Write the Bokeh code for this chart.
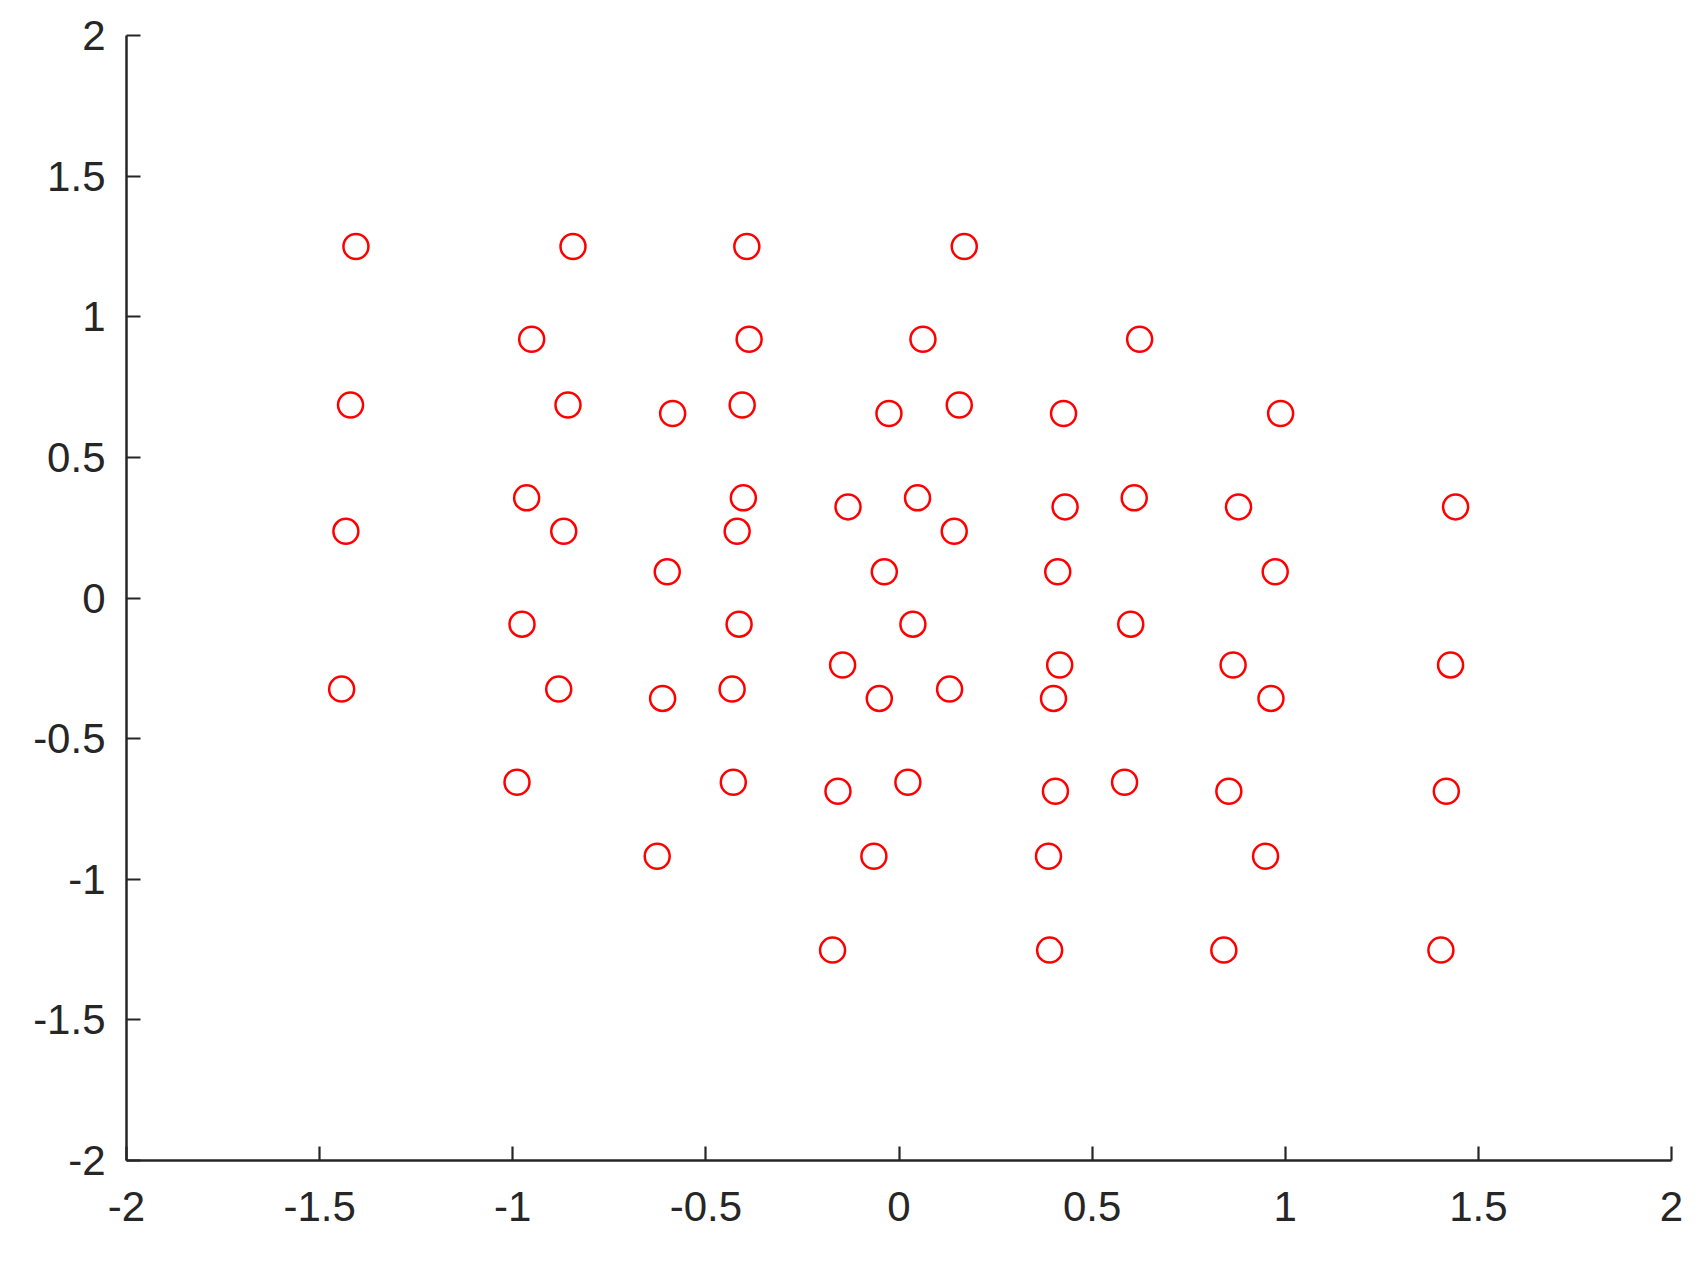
from bokeh.plotting import figure
from bokeh.models import Range1d, FixedTicker, ColumnDataSource
from bokeh.embed import file_html
from bokeh.resources import INLINE

# Data (4 x 16 points)
x_vals = [
    -1.406, -0.844, -0.394, 0.169,
    -0.951, -0.388, 0.062, 0.623,
    -1.420, -0.857, -0.406, 0.156,
    -0.586, -0.026, 0.426, 0.988,
    -0.964, -0.403, 0.048, 0.609,
    -0.132, 0.430, 0.879, 1.441,
    -1.432, -0.868, -0.419, 0.143,
    -0.600, -0.038, 0.411, 0.974,
    -0.976, -0.414, 0.036, 0.600,
    -0.146, 0.416, 0.865, 1.428,
    -1.443, -0.881, -0.432, 0.131,
    -0.612, -0.051, 0.400, 0.963,
    -0.989, -0.429, 0.023, 0.584,
    -0.158, 0.405, 0.854, 1.417,
    -0.626, -0.065, 0.387, 0.949,
    -0.172, 0.390, 0.841, 1.403,
]
y_vals = (
    [1.250] * 4 + [0.920] * 4 + [0.686] * 4 + [0.656] * 4 +
    [0.356] * 4 + [0.324] * 4 + [0.237] * 4 + [0.093] * 4 +
    [-0.093] * 4 + [-0.238] * 4 + [-0.324] * 4 + [-0.357] * 4 +
    [-0.655] * 4 + [-0.687] * 4 + [-0.918] * 4 + [-1.252] * 4
)

tick_values = [-2, -1.5, -1, -0.5, 0, 0.5, 1, 1.5, 2]
tick_labels = ["-2", "-1.5", "-1", "-0.5", "0", "0.5", "1", "1.5", "2"]

source = ColumnDataSource(data=dict(x=x_vals, y=y_vals))

p = figure(
    width=1691, height=1250,
    x_range=Range1d(-2, 2), y_range=Range1d(-2, 2),
    output_backend="svg", toolbar_location=None,
    min_border_left=126, min_border_right=20,
    min_border_top=35, min_border_bottom=90,
)
p.outline_line_color = None
p.grid.visible = False
p.background_fill_color = "white"
p.border_fill_color = "white"

p.scatter("x", "y", source=source, marker="circle", size=25,
          fill_color=None, line_color="#ff0000", line_width=2.5)

label_map = {v: t for v, t in zip(tick_values, tick_labels)}
for ax in (p.xaxis[0], p.yaxis[0]):
    ax.ticker = FixedTicker(ticks=tick_values)
    ax.major_label_overrides = label_map
    ax.axis_line_color = "#262626"
    ax.axis_line_width = 2.5
    ax.major_tick_line_color = "#262626"
    ax.major_tick_line_width = 2.2
    ax.major_tick_in = 14
    ax.major_tick_out = 0
    ax.minor_tick_line_color = None
    ax.major_label_text_font = "Liberation Sans"
    ax.major_label_text_font_size = "42px"
    ax.major_label_text_color = "#262626"

p.yaxis[0].major_label_standoff = 21
p.xaxis[0].major_label_standoff = 31

open("out.html", "w").write(file_html(p, INLINE))
